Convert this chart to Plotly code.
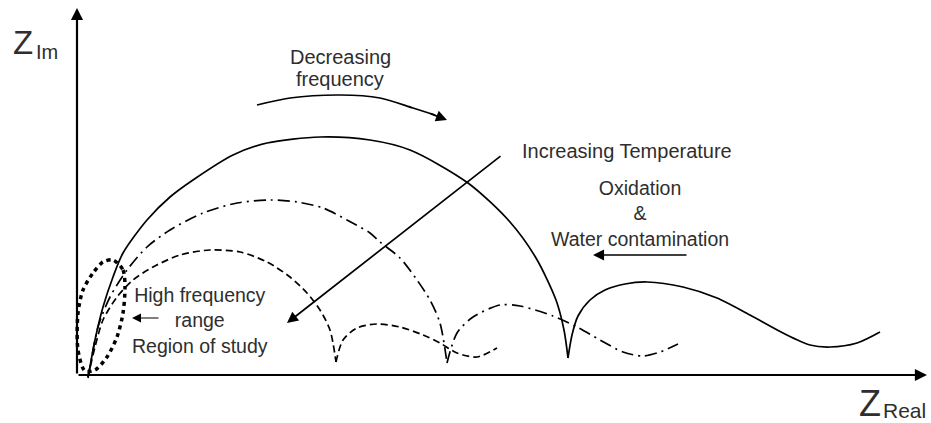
import plotly.graph_objects as go

# ---- data (schematic Nyquist plot, units: Z_Real / Z_Im arbitrary) ----
solid1_x = [11, 18, 26, 36, 46, 70, 93, 116, 156, 190, 243, 293, 333, 391, 433, 459, 479, 487, 491]
solid1_y = [-3, 35, 68, 98, 122, 155, 178, 195, 220, 232, 238, 235, 225, 192, 153, 117, 75, 45, 17]

solid2_x = [491, 495, 501, 513, 528, 548, 570, 606, 640, 673, 706, 733, 753, 780, 803]
solid2_y = [17, 40, 59, 75, 85, 91, 93, 88, 77, 60, 42, 30, 28, 32, 43]

dashdot1_x = [11, 13, 21, 33, 50, 70, 93, 126, 160, 193, 220, 246, 270, 293, 303, 323, 340, 353, 363, 370]
dashdot1_y = [-2, 8, 48, 78, 105, 128, 145, 162, 172, 175, 173, 167, 155, 142, 133, 117, 95, 75, 52, 12]

dashdot2_x = [370, 380, 396, 423, 443, 476, 500, 523, 546, 566, 583, 601]
dashdot2_y = [12, 42, 58, 70, 69, 59, 48, 35, 23, 19, 23, 31]

dash1_x = [11, 18, 26, 40, 56, 76, 103, 133, 163, 190, 213, 230, 243, 253, 259]
dash1_y = [-2, 28, 55, 78, 95, 108, 120, 125, 123, 113, 98, 82, 65, 45, 13]

dash2_x = [259, 266, 280, 300, 323, 346, 363, 380, 400, 420]
dash2_y = [13, 35, 47, 51, 48, 40, 32, 22, 18, 27]

ellipse_x = [36, 46, 48, 46, 40, 30, 18, 8, 1, 1, 6, 16, 26, 36]
ellipse_y = [115, 105, 88, 62, 38, 18, 5, 4, 25, 62, 85, 102, 113, 115]

freq_arc_x = [180, 213, 263, 303, 336, 358]
freq_arc_y = [270, 277, 280, 277, 267, 260]

# arrows: (tail_x, tail_y, head_x, head_y)
arrow_y_axis = (0, 0, 0, 367)
arrow_x_axis = (0, 0, 850, 0)
arrow_freq = (352, 262, 370, 255)
arrow_temp = (425, 220, 210, 52)
arrow_oxid = (611, 120, 516, 120)
arrow_region = (83, 57, 55, 57)

TXT = "#2e2e2e"
FONT = "Liberation Sans, Arial, sans-serif"

fig = go.Figure()

def curve(x, y, dash, width=1.7, shape="spline"):
    fig.add_trace(go.Scatter(x=x, y=y, mode="lines",
                             line=dict(color="black", width=width, dash=dash, shape=shape, smoothing=0.8),
                             hoverinfo="skip", showlegend=False))

curve(solid1_x, solid1_y, "solid")
curve(solid2_x, solid2_y, "solid")
curve(dashdot1_x, dashdot1_y, "12px,5px,2px,5px")
curve(dashdot2_x, dashdot2_y, "12px,5px,2px,5px")
curve(dash1_x, dash1_y, "7px,4px")
curve(dash2_x, dash2_y, "7px,4px")
curve(ellipse_x, ellipse_y, "4px,4px", width=3.5)
curve(freq_arc_x, freq_arc_y, "solid", width=1.7)

annotations = []

def arrow(a, width, size, head=2):
    tx, ty, hx, hy = a
    annotations.append(dict(x=hx, y=hy, ax=tx, ay=ty, xref="x", yref="y", axref="x", ayref="y",
                            showarrow=True, arrowhead=head, arrowsize=size, arrowwidth=width,
                            arrowcolor="black", standoff=0, startstandoff=0, text=""))

arrow(arrow_y_axis, 2.2, 1.1)
arrow(arrow_x_axis, 2.2, 1.1)
arrow(arrow_freq, 1.7, 1.3)
arrow(arrow_temp, 1.7, 1.3)
arrow(arrow_oxid, 1.7, 1.3)
arrow(arrow_region, 1.2, 1.5)

def text(x, y, s, size, xanchor="center", pad=1):
    annotations.append(dict(x=x, y=y, xref="x", yref="y", text=s, showarrow=False,
                            xanchor=xanchor, yanchor="middle", borderpad=pad,
                            font=dict(family=FONT, size=size, color=TXT)))

text(263, 318, "Decreasing", 20)
text(263, 296, "frequency", 20)
text(550, 224, "Increasing Temperature", 20)
text(563, 162, "Oxidation<br>&<br>Water contamination", 19.5)
text(123, 55, "High frequency<br>range<br>Region of study", 19.5)

text(-54, 333, "Z", 33)
text(-43, 323, "Im", 20, xanchor="left")
text(793, -28, "Z", 36)
text(850, -35, "Real", 21, xanchor="right", pad=0)

fig.update_layout(
    width=931, height=423,
    margin=dict(l=0, r=0, t=0, b=0),
    paper_bgcolor="white", plot_bgcolor="white",
    xaxis=dict(range=[-77, 854], visible=False, fixedrange=True),
    yaxis=dict(range=[-48, 375], visible=False, fixedrange=True),
    annotations=annotations,
    showlegend=False,
)

fig.write_html("out.html")
